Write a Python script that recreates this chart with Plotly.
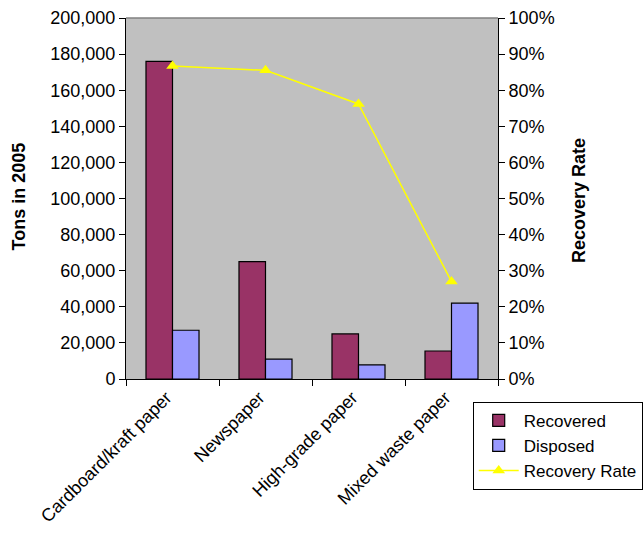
import plotly.graph_objects as go

categories = ["Cardboard/kraft paper", "Newspaper", "High-grade paper", "Mixed waste paper"]
recovered = [176000, 65000, 25000, 15500]
disposed = [27000, 11000, 7800, 42000]
recovery_rate = [0.867, 0.855, 0.762, 0.27]

left_ticks = list(range(0, 200001, 20000))
right_ticks = [i / 10 for i in range(11)]
boundaries = [-0.5, 0.5, 1.5, 2.5, 3.5]

family = "Liberation Sans, Arial, sans-serif"
font = dict(family=family, size=18, color="black")
legend_font = dict(family=family, size=17, color="black")
title_font = dict(family=family, size=18, color="black")

fig = go.Figure()
fig.add_trace(go.Bar(
    x=categories, y=recovered, name="Recovered",
    marker=dict(color="#993366", line=dict(color="black", width=1.2)),
))
fig.add_trace(go.Bar(
    x=categories, y=disposed, name="Disposed",
    marker=dict(color="#9999FF", line=dict(color="black", width=1.2)),
))
fig.add_trace(go.Scatter(
    x=categories, y=recovery_rate, name="Recovery Rate", yaxis="y2",
    mode="lines+markers",
    line=dict(color="#FFFF00", width=1.5),
    marker=dict(symbol="triangle-up", size=11, color="#FFFF00"),
))

axis_common = dict(showgrid=False, zeroline=False, linecolor="black", linewidth=1,
                   ticks="outside", ticklen=6, tickcolor="black", tickfont=font)
inner_ticks = dict(ticks="inside", ticklen=6, tickcolor="black", showticklabels=False,
                   showgrid=False, zeroline=False, showline=False)

fig.update_layout(
    width=643, height=533,
    margin=dict(l=126, r=145, t=18, b=154, autoexpand=False),
    paper_bgcolor="white", plot_bgcolor="#C0C0C0",
    font=font,
    barmode="group", bargap=0.43, bargroupgap=0,
    showlegend=True,
    legend=dict(x=0.932, y=-0.063, xanchor="left", yanchor="top",
                bordercolor="black", borderwidth=1, bgcolor="white",
                font=legend_font, tracegroupgap=0, itemwidth=40),
    xaxis=dict(axis_common, type="category", tickson="boundaries", tickangle=-45,
               showline=True, ticklabelshift=-6),
    xaxis2=dict(inner_ticks, range=[-0.5, 3.5], tickvals=boundaries,
                overlaying="x", side="bottom"),
    yaxis=dict(axis_common, range=[0, 200000], tickvals=left_ticks,
               tickformat=",", showline=True),
    yaxis2=dict(axis_common, range=[0, 1], tickvals=right_ticks, tickformat=".0%",
                overlaying="y", side="right", showline=True),
    yaxis3=dict(inner_ticks, range=[0, 200000], tickvals=left_ticks,
                overlaying="y", side="left"),
    yaxis4=dict(inner_ticks, range=[0, 1], tickvals=right_ticks,
                overlaying="y", side="right"),
)

# axis titles
fig.add_annotation(text="<b>Tons in 2005</b>", xref="paper", yref="paper",
                   x=-0.289, y=0.507, textangle=-90, showarrow=False,
                   font=title_font, xanchor="center", yanchor="middle")
fig.add_annotation(text="<b>Recovery Rate</b>", xref="paper", yref="paper",
                   x=1.218, y=0.493, textangle=-90, showarrow=False,
                   font=title_font, xanchor="center", yanchor="middle")

# gray frame on the top edge of the plot area
fig.add_shape(type="line", xref="paper", yref="paper", x0=0, x1=1, y0=1, y1=1,
              line=dict(color="#808080", width=1.5))

fig.write_html("out.html")
